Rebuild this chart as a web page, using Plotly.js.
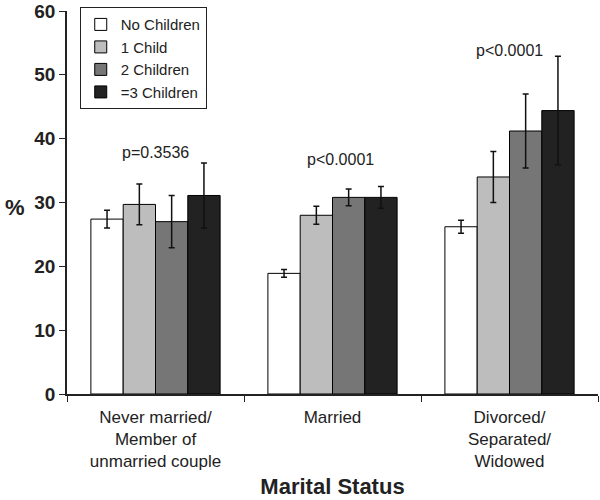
<!DOCTYPE html>
<html>
<head>
<meta charset="utf-8">
<script src="https://cdn.plot.ly/plotly-3.0.1.min.js"></script>
<style>
  body { margin: 0; background: #fff; }
  #plotly_graph { width: 600px; height: 500px; }
</style>
</head>
<body>
<div id="plotly_graph"></div>
<script>
// ~~~~~~~~~~~~~~~~~~~~~~~~~~~~~~ DATA ~~~~~~~~~~~~~~~~~~~~~~~~~~~~~~
const CATEGORIES = [
    'Never married/<br>Member of<br>unmarried couple',
    'Married',
    'Divorced/<br>Separated/<br>Widowed'
]

const SERIES_NAMES = ['No Children', '1 Child', '2 Children', '=3 Children']

const NO_CHILDREN = [27.4, 18.9, 26.2]
const ONE_CHILD = [29.7, 28.0, 34.0]
const TWO_CHILDREN = [27.0, 30.8, 41.2]
const THREE_CHILDREN = [31.1, 30.8, 44.4]

const NO_CHILDREN_ERR = [1.4, 0.6, 1.0]
const ONE_CHILD_ERR = [3.2, 1.4, 4.0]
const TWO_CHILDREN_ERR = [4.1, 1.3, 5.8]
const THREE_CHILDREN_ERR = [5.1, 1.7, 8.5]

const P_LABELS = ['p=0.3536', 'p<0.0001', 'p<0.0001']
const P_Y = [37.9, 36.8, 53.8]

const COLORS = ['#ffffff', '#bdbdbd', '#767676', '#222222']

// ~~~~~~~~~~~~~~~~~~~~~~~~~~~~~~ TRACES ~~~~~~~~~~~~~~~~~~~~~~~~~~~~~~
const values = [NO_CHILDREN, ONE_CHILD, TWO_CHILDREN, THREE_CHILDREN]
const errors = [NO_CHILDREN_ERR, ONE_CHILD_ERR, TWO_CHILDREN_ERR, THREE_CHILDREN_ERR]

let data = values.map((y, i) => ({
    type: 'bar',
    name: SERIES_NAMES[i],
    x: CATEGORIES,
    y: y,
    marker: { color: COLORS[i], line: { color: '#000', width: 1 } },
    error_y: {
        type: 'data',
        array: errors[i],
        visible: true,
        color: '#111',
        thickness: 1.5,
        width: 3
    }
}))

// ~~~~~~~~~~~~~~~~~~~~~~~~~~~~~~ LAYOUT ~~~~~~~~~~~~~~~~~~~~~~~~~~~~~~
let annotations = P_LABELS.map((t, i) => ({
    x: CATEGORIES[i],
    y: P_Y[i],
    xref: 'x',
    yref: 'y',
    text: t,
    showarrow: false,
    xshift: i === 1 ? 8 : 0,
    font: { size: 16, color: '#222' }
}))

// y title is drawn upright in the original, so use an annotation
annotations.push({
    x: -0.12,
    y: 0.486,
    xref: 'paper',
    yref: 'paper',
    xanchor: 'left',
    yanchor: 'middle',
    text: '<b>%</b>',
    showarrow: false,
    font: { size: 22, color: '#222' }
})

let layout = {
    width: 600,
    height: 500,
    margin: { t: 11, r: 2, b: 106, l: 67 },
    paper_bgcolor: '#fff',
    plot_bgcolor: '#fff',
    font: { family: 'Liberation Sans, Arial, sans-serif', color: '#222' },
    barmode: 'group',
    bargap: 0.27,
    bargroupgap: 0,
    showlegend: true,
    legend: {
        x: 0.024,
        y: 1.01,
        xanchor: 'left',
        yanchor: 'top',
        bgcolor: '#fff',
        bordercolor: '#222',
        borderwidth: 1,
        font: { size: 15, color: '#222' },
        itemwidth: 30,
        traceorder: 'normal'
    },
    xaxis: {
        type: 'category',
        showline: true,
        linecolor: '#222',
        linewidth: 1.5,
        ticks: 'outside',
        tickson: 'boundaries',
        ticklen: 6,
        tickcolor: '#222',
        ticklabelstandoff: 7,
        tickfont: { size: 17, color: '#222' },
        showgrid: false,
        title: {
            text: '<b>Marital Status</b>',
            font: { size: 22, color: '#222' },
            standoff: 8
        }
    },
    yaxis: {
        range: [0, 60],
        dtick: 10,
        showline: true,
        linecolor: '#222',
        linewidth: 1.5,
        ticks: 'outside',
        ticklen: 6,
        tickcolor: '#222',
        showgrid: false,
        zeroline: false,
        tickfont: { size: 19, color: '#222' },
        tickprefix: '<b>',
        ticksuffix: '</b>'
    },
    annotations: annotations
}

const config = { displayModeBar: false, responsive: false }

Plotly.newPlot('plotly_graph', data, layout, config)
</script>
</body>
</html>
